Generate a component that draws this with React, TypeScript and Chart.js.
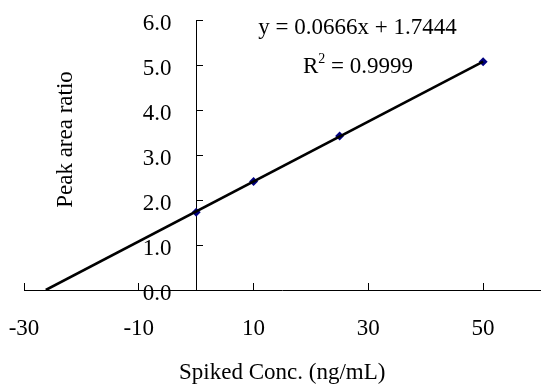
import React, { useEffect, useRef } from "react";
import { Chart, registerables } from "chart.js";

Chart.register(...registerables);

// ---- data ----
const pointX = [0, 10, 25, 50];
const pointY = [1.73, 2.41, 3.42, 5.07];
const trendX = [-26.2, 50];
const trendY = [0, 5.074];
const xTicks = [-30, -10, 10, 30, 50];
const yTicks = [0, 1, 2, 3, 4, 5, 6];
const xTitle = "Spiked Conc. (ng/mL)";
const yTitle = "Peak area ratio";
const equationText = "y = 0.0666x + 1.7444";
const rSquaredValue = "0.9999";

const X_MIN = -30;
const X_MAX = 60;
const FONT = '"Liberation Serif", "Times New Roman", serif';
const FS = 23;
const PLOT_W = 522; // chart-area width in px (24 .. 546)
const Y_LABEL_GAP_PX = 25; // gap between y axis line and right edge of its labels
const yLabelAxisAt = -(Y_LABEL_GAP_PX * (X_MAX - X_MIN)) / PLOT_W;

const textPlugin = {
  id: "textPlugin",
  afterDraw(chart: any) {
    const ctx = chart.ctx as CanvasRenderingContext2D;
    ctx.save();
    ctx.fillStyle = "#000";
    ctx.font = `${FS}px ${FONT}`;
    ctx.textBaseline = "alphabetic";
    // equation
    ctx.textAlign = "center";
    ctx.fillText(equationText, 357.5, 34);
    // R^2 line
    const rW = ctx.measureText("R").width;
    const restText = " = " + rSquaredValue;
    const restW = ctx.measureText(restText).width;
    const supFont = `${Math.round(FS * 0.62)}px ${FONT}`;
    ctx.font = supFont;
    const supW = ctx.measureText("2").width;
    const total = rW + supW + restW;
    const x0 = 358 - total / 2;
    ctx.textAlign = "left";
    ctx.font = `${FS}px ${FONT}`;
    ctx.fillText("R", x0, 73);
    ctx.font = supFont;
    ctx.fillText("2", x0 + rW, 63);
    ctx.font = `${FS}px ${FONT}`;
    ctx.fillText(restText, x0 + rW + supW, 73);
    // y title
    ctx.translate(72, 139.5);
    ctx.rotate(-Math.PI / 2);
    ctx.textAlign = "center";
    ctx.fillText(yTitle, 0, 0);
    ctx.restore();
  },
};

export default function App() {
  const ref = useRef<HTMLCanvasElement>(null);
  useEffect(() => {
    Chart.defaults.font.family = FONT;
    Chart.defaults.color = "#000";
    const chart = new Chart(ref.current!, {
      type: "scatter",
      data: {
        datasets: [
          {
            label: "trend",
            data: trendX.map((x, i) => ({ x, y: trendY[i] })),
            showLine: true,
            borderColor: "#000",
            borderWidth: 2.6,
            pointRadius: 0,
            order: 0,
          },
          {
            label: "data",
            data: pointX.map((x, i) => ({ x, y: pointY[i] })),
            pointStyle: "rectRot",
            pointRadius: 4.5,
            backgroundColor: "#000080",
            borderColor: "#000080",
            borderWidth: 0,
            order: 1,
          },
        ],
      },
      options: {
        responsive: false,
        maintainAspectRatio: false,
        animation: false,
        events: [],
        layout: { padding: { left: 24, right: -1, top: 20, bottom: 0 } },
        plugins: { legend: { display: false }, tooltip: { enabled: false } },
        scales: {
          x: {
            type: "linear",
            position: "bottom",
            min: X_MIN,
            max: X_MAX,
            afterBuildTicks: (axis: any) => {
              axis.ticks = xTicks.map((v) => ({ value: v }));
            },
            afterFit: (scale: any) => {
              scale.height = 94;
              scale.paddingLeft = 0;
              scale.paddingRight = 0;
            },
            grid: {
              drawOnChartArea: false,
              drawTicks: true,
              tickLength: -7,
              color: "#000",
              lineWidth: 1,
            },
            border: { display: true, color: "#000", width: 1 },
            ticks: {
              font: { size: FS, family: FONT },
              color: "#000",
              padding: 32,
              maxRotation: 0,
              autoSkip: false,
              callback: (v: any) => String(v),
            },
            title: {
              display: true,
              text: xTitle,
              font: { size: FS, family: FONT },
              color: "#000",
              padding: { top: 0, bottom: -2.5 },
            },
          },
          y: {
            type: "linear",
            axis: "y",
            position: { x: 0 } as any,
            min: 0,
            max: 6,
            afterBuildTicks: (axis: any) => {
              axis.ticks = yTicks.map((v) => ({ value: v }));
            },
            afterFit: (scale: any) => {
              scale.paddingTop = 0;
              scale.paddingBottom = 0;
            },
            grid: {
              drawOnChartArea: false,
              drawTicks: true,
              tickLength: -7,
              color: "#000",
              lineWidth: 1,
            },
            border: { display: true, color: "#000", width: 1 },
            ticks: { display: false },
            title: { display: false },
          },
          yLabels: {
            type: "linear",
            axis: "y",
            position: { x: yLabelAxisAt } as any,
            min: 0,
            max: 6,
            afterBuildTicks: (axis: any) => {
              axis.ticks = yTicks.map((v) => ({ value: v }));
            },
            afterFit: (scale: any) => {
              scale.paddingTop = 0;
              scale.paddingBottom = 0;
            },
            grid: { display: false, drawTicks: false },
            border: { display: false },
            ticks: {
              font: { size: FS, family: FONT },
              color: "#000",
              padding: 0,
              labelOffset: 4,
              autoSkip: false,
              callback: (v: any) => Number(v).toFixed(1),
            },
            title: { display: false },
          },
        },
      },
      plugins: [textPlugin],
    } as any);
    return () => chart.destroy();
  }, []);
  return (
    <div style={{ position: "fixed", left: 0, top: 0, width: 545, height: 384, background: "#fff" }}>
      <canvas ref={ref} width={545} height={384} style={{ width: 545, height: 384, display: "block" }} />
    </div>
  );
}
